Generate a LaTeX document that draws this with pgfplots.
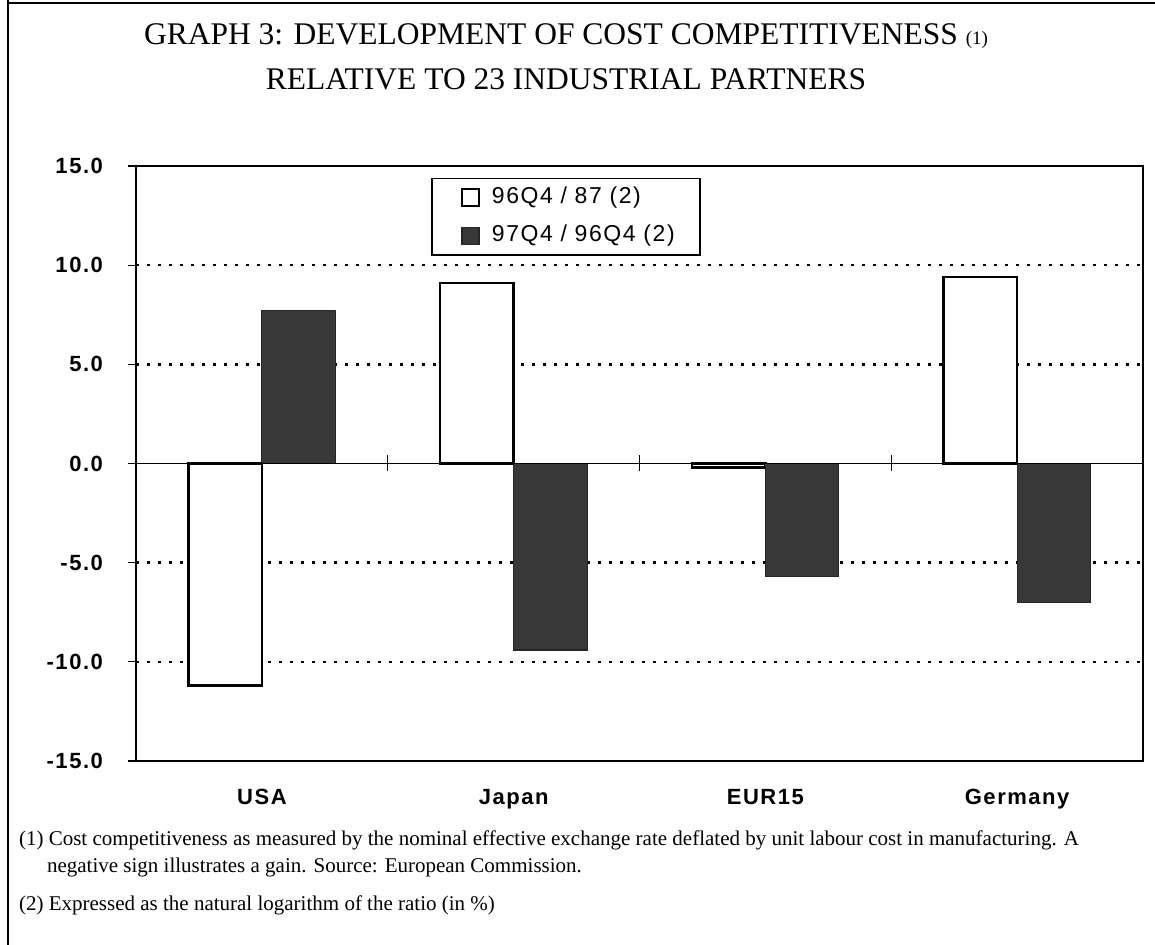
\documentclass[border=0pt]{standalone}
\usepackage{fontspec}
\setmainfont{Liberation Serif}
\setsansfont{Liberation Sans}
\newfontfamily\trackfont[LetterSpace=7]{Liberation Sans}
\usepackage{pgfplots}
\usepackage{pgfplotstable}
\pgfplotsset{compat=1.18}
\definecolor{darkbar}{gray}{0.22}

\pgfplotstableread{
x a b
0 -11.2 7.7
1 9.1 -9.4
2 -0.2 -5.7
3 9.4 -7.0
}\datatable

\begin{document}
\begin{tikzpicture}
\path[use as bounding box] (0pt,0pt) rectangle (577.5pt,472.5pt);
\draw[line width=1pt] (4pt,472.5pt) -- (4pt,0pt);
\draw[line width=1pt] (4pt,471pt) -- (577.5pt,471pt);

\node[anchor=base, font=\fontsize{15.75}{18}\selectfont] at (283pt,450pt)
  {GRAPH 3: DEVELOPMENT OF COST COMPETITIVENESS {\fontsize{9.5}{10}\selectfont (1)}};
\node[anchor=base, font=\fontsize{15.75}{18}\selectfont] at (283pt,427.5pt)
  {RELATIVE TO 23 INDUSTRIAL PARTNERS};

\begin{axis}[
  at={(68pt,92pt)}, anchor=south west,
  scale only axis, width=503.5pt, height=297.5pt,
  xmin=-0.5, xmax=3.5, ymin=-15, ymax=15,
  ybar=0pt, bar width=36.75pt,
  axis line style={black, line width=0.8pt},
  xtick={0,1,2,3}, xticklabels={USA,Japan,EUR15,Germany},
  major x tick style={draw=none},
  xticklabel style={anchor=base, yshift=-18pt, font=\trackfont\bfseries\fontsize{11}{12}\selectfont},
  ytick={-15,-10,-5,0,5,10,15},
  yticklabels={-15.0,-10.0,-5.0,0.0,5.0,10.0,15.0},
  ytick pos=left, tick align=outside, major tick length=4pt,
  major y tick style={black, line width=0.6pt},
  yticklabel style={anchor=east, xshift=-9pt, font=\trackfont\bfseries\fontsize{11}{12}\selectfont},
  extra y ticks={-10,-5,5,10},
  extra y tick labels={},
  extra y tick style={grid=major, major tick length=0pt},
  grid style={black, line width=1.2pt, dash pattern=on 1.5pt off 4pt},
  legend style={at={(0.293,0.98)}, anchor=north west, draw=black, line width=0.8pt,
    font=\trackfont\fontsize{11.5}{12}\selectfont,
    inner xsep=8.5pt, inner ysep=1.85pt, row sep=4pt,
    nodes={text width=93.5pt, text height=8.5pt, text depth=2.7pt, inner sep=2pt},
    /tikz/every odd column/.append style={column sep=4pt}},
  legend cell align=left,
]
\addplot[fill=white, draw=black, line width=1.2pt,
  legend image code/.code={\path (0pt,0pt); \draw[fill=white, draw=black, line width=0.8pt] (6pt,-4.25pt) rectangle (14.5pt,4.25pt);}]
  table[x=x, y=a] {\datatable};
\addplot[fill=darkbar, draw=black!85, line width=0.6pt,
  legend image code/.code={\path (0pt,0pt); \draw[fill=darkbar, draw=black!85, line width=0.6pt] (6pt,-4.25pt) rectangle (14.5pt,4.25pt);}]
  table[x=x, y=b] {\datatable};
\legend{96Q4 / 87 (2), 97Q4 / 96Q4 (2)}
\end{axis}

\begin{axis}[
  at={(68pt,92pt)}, anchor=south west,
  scale only axis, width=503.5pt, height=297.5pt,
  xmin=-0.5, xmax=3.5, ymin=-15, ymax=15,
  axis x line=middle, axis y line=none,
  x axis line style={-, black, line width=0.6pt},
  xtick={0.5,1.5,2.5}, xticklabels={},
  tick align=center, major tick length=8pt,
  major x tick style={black, line width=0.6pt},
  ytick=\empty,
]
\end{axis}

\node[anchor=base west, font=\fontsize{10.5}{12}\selectfont] at (6pt,49.5pt)
  {(1) Cost competitiveness as measured by the nominal effective exchange rate deflated by unit labour cost in manufacturing. A};
\node[anchor=base west, font=\fontsize{10.5}{12}\selectfont] at (20pt,36pt)
  {negative sign illustrates a gain. Source: European Commission.};
\node[anchor=base west, font=\fontsize{10.5}{12}\selectfont] at (6pt,17pt)
  {(2) Expressed as the natural logarithm of the ratio (in \%)};
\end{tikzpicture}
\end{document}
